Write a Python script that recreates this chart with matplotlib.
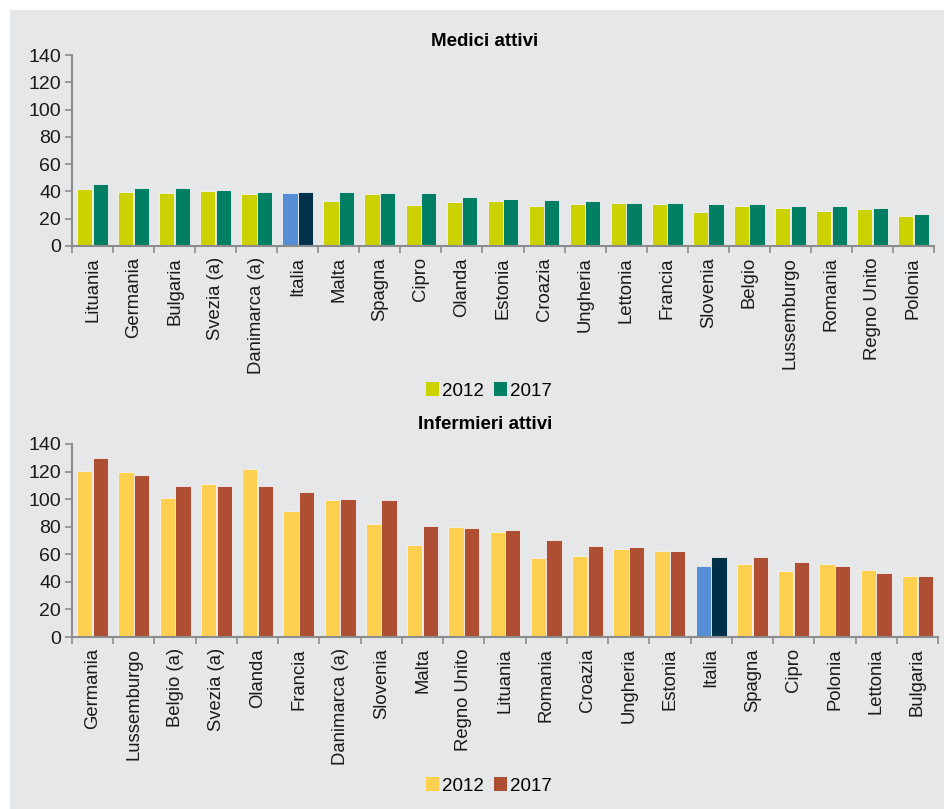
import numpy as np
import matplotlib
matplotlib.use('Agg')
from matplotlib import pyplot as plt
from matplotlib.patches import Rectangle, Patch

plt.rcParams['font.family'] = ['Liberation Sans', 'DejaVu Sans']

# dati
medici_paesi = ['Lituania', 'Germania', 'Bulgaria', 'Svezia (a)', 'Danimarca (a)', 'Italia',
                'Malta', 'Spagna', 'Cipro', 'Olanda', 'Estonia', 'Croazia', 'Ungheria',
                'Lettonia', 'Francia', 'Slovenia', 'Belgio', 'Lussemburgo', 'Romania',
                'Regno Unito', 'Polonia']
medici_2012 = [42.1, 39.4, 38.9, 40.4, 38.2, 38.9, 32.8, 38.2, 30.1, 32.3, 32.8, 29.6, 30.8,
               31.3, 30.8, 25.2, 29.1, 27.9, 25.9, 26.9, 22.0]
medici_2017 = [45.5, 42.3, 42.3, 40.9, 39.9, 39.6, 39.4, 38.7, 38.7, 35.6, 34.5, 33.5, 33.3,
               31.8, 31.3, 30.8, 30.6, 29.6, 29.1, 28.1, 23.5]

infermieri_paesi = ['Germania', 'Lussemburgo', 'Belgio (a)', 'Svezia (a)', 'Olanda', 'Francia',
                    'Danimarca (a)', 'Slovenia', 'Malta', 'Regno Unito', 'Lituania', 'Romania',
                    'Croazia', 'Ungheria', 'Estonia', 'Italia', 'Spagna', 'Cipro', 'Polonia',
                    'Lettonia', 'Bulgaria']
infermieri_2012 = [120.1, 119.4, 100.5, 110.9, 121.6, 91.5, 99.7, 82.0, 67.0, 79.8, 76.2, 57.3,
                   58.5, 63.6, 62.1, 51.7, 53.1, 47.8, 53.1, 48.8, 44.4]
infermieri_2017 = [129.6, 117.4, 109.7, 109.4, 109.2, 105.3, 100.0, 99.7, 80.6, 78.9, 77.6, 70.1,
                   66.0, 65.5, 62.4, 58.3, 57.8, 54.4, 51.4, 46.1, 44.4]

sfondo = '#E6E7E8'
grigio = '#8C8C8C'

fig = plt.figure(figsize=(9.45, 8.09), dpi=100)
fig.patch.set_facecolor('white')
fig.patches.append(Rectangle((10 / 945, 0), 1, 1 - 10 / 809, transform=fig.transFigure,
                             facecolor=sfondo, edgecolor='none', zorder=-10))


def grafico(rect, paesi, v2012, v2017, c2012, c2017, titolo, ty, ly):
    ax = fig.add_axes(rect)
    ax.set_facecolor('none')
    x = np.arange(len(paesi))
    col1 = ['#558ED5' if p == 'Italia' else c2012 for p in paesi]
    col2 = ['#00304A' if p == 'Italia' else c2017 for p in paesi]
    w = 0.37
    ax.bar(x - 0.19, v2012, w, color=col1, edgecolor='#F2F2F2', linewidth=0.6)
    ax.bar(x + 0.19, v2017, w, color=col2, edgecolor='#F2F2F2', linewidth=0.6)
    ax.set_xlim(-0.5, len(paesi) - 0.5)
    ax.set_ylim(0, 140)
    ax.set_yticks(range(0, 141, 20))
    ax.set_xticks(x)
    ax.set_xticklabels(paesi, rotation=90, fontsize=13.3, color='#1a1a1a')
    ax.set_xticks(np.arange(-0.5, len(paesi), 1), minor=True)
    ax.tick_params(axis='x', which='major', length=0, pad=8)
    ax.tick_params(axis='x', which='minor', length=5, color=grigio, width=1.2)
    ax.tick_params(axis='y', length=5, color=grigio, width=1.2, labelsize=14,
                   labelcolor='#1a1a1a', pad=3)
    for s in ['top', 'right']:
        ax.spines[s].set_visible(False)
    for s in ['left', 'bottom']:
        ax.spines[s].set_color(grigio)
        ax.spines[s].set_linewidth(1.5)
    fig.text(0.513, ty, titolo, ha='center', va='center', fontsize=13.5, fontweight='bold')
    maniglie = [Patch(facecolor=c2012, edgecolor='none'), Patch(facecolor=c2017, edgecolor='none')]
    fig.legend(maniglie, ['2012', '2017'], loc='center', bbox_to_anchor=(0.517, ly), ncol=2,
               frameon=False, fontsize=13.5, handlelength=0.7, handleheight=0.7,
               handletextpad=0.15, columnspacing=0.55)
    return ax


grafico([72 / 945, 1 - 246 / 809, 862 / 945, 191 / 809], medici_paesi, medici_2012,
        medici_2017, '#CCD200', '#007F65', 'Medici attivi', 1 - 42 / 809, 1 - 391 / 809)
grafico([72 / 945, 1 - 637 / 809, 866 / 945, 193 / 809], infermieri_paesi, infermieri_2012,
        infermieri_2017, '#FFD050', '#AE4F33', 'Infermieri attivi', 1 - 424 / 809, 1 - 786 / 809)

plt.savefig('out.png', dpi=100)
